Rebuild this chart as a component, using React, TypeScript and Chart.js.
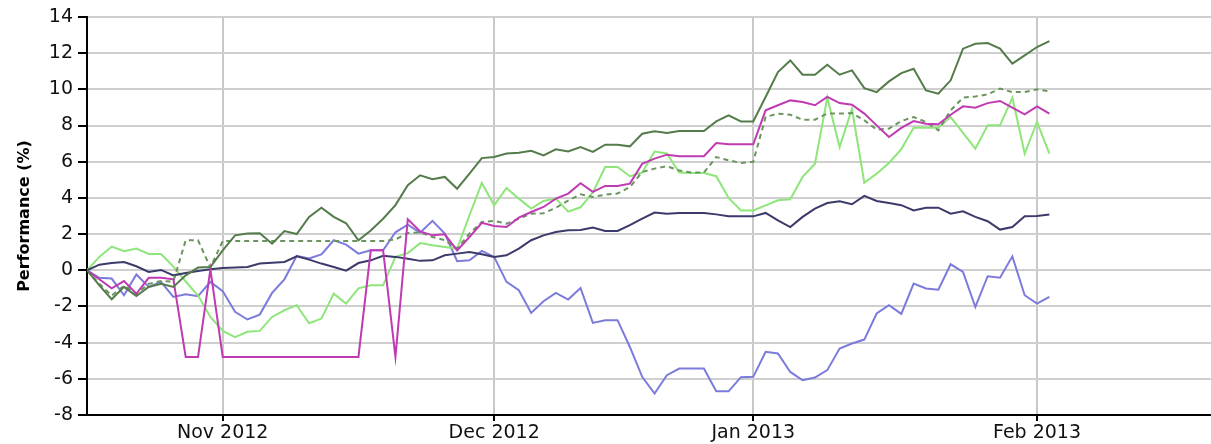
import React, { useEffect, useRef } from 'react';
import { Chart, registerables } from 'chart.js';

Chart.register(...registerables);

// x = trading-day index (0 = 17 Oct 2012, weekdays only)
const MONTH_TICKS = [11, 33, 54, 77];
const MONTH_LABELS = ['Nov 2012', 'Dec 2012', 'Jan 2013', 'Feb 2013'];
const X_MAX = 91.1;
const Y_MIN = -8;
const Y_MAX = 14;
const Y_STEP = 2;

const darkGreen = [
  0, -0.83, -1.6, -0.92, -1.42, -0.92, -0.74, -0.92, -0.28, 0.15,
  0.18, 1.1, 1.93, 2.03, 2.05, 1.47, 2.17, 2.0, 2.95, 3.46,
  2.95, 2.6, 1.66, 2.2, 2.85, 3.6, 4.7, 5.25, 5.03, 5.16,
  4.51, 5.34, 6.2, 6.26, 6.45, 6.5, 6.6, 6.35, 6.69, 6.57,
  6.81, 6.54, 6.94, 6.94, 6.85, 7.55, 7.68, 7.59, 7.7, 7.7,
  7.7, 8.23, 8.56, 8.23, 8.23, 9.58, 10.96, 11.6, 10.81, 10.81,
  11.36, 10.81, 11.05, 10.07, 9.85, 10.44, 10.9, 11.14, 9.94, 9.76,
  10.5, 12.25, 12.52, 12.56, 12.25, 11.42, 11.88, 12.34, 12.67,
];

const dashedGreen = [
  0, -0.75, -1.4, -0.85, -1.3, -0.75, -0.6, -0.62, 1.66, 1.66,
  0.15, 1.62, 1.62, 1.62, 1.62, 1.62, 1.62, 1.62, 1.62, 1.62,
  1.62, 1.62, 1.62, 1.62, 1.62, 1.7, 2.06, 2.1, 1.84, 1.66,
  1.2, 2.03, 2.67, 2.73, 2.58, 2.85, 3.13, 3.15, 3.45, 3.85,
  4.2, 4.05, 4.18, 4.24, 4.6, 5.43, 5.62, 5.75, 5.52, 5.4,
  5.4, 6.26, 6.08, 5.93, 6.0, 8.47, 8.66, 8.6, 8.32, 8.32,
  8.66, 8.66, 8.69, 8.29, 7.77, 7.83, 8.25, 8.47, 8.2, 7.73,
  8.84, 9.54, 9.61, 9.72, 10.04, 9.85, 9.85, 10.0, 9.89,
];

const magenta = [
  0, -0.5, -1.0, -0.6, -1.3, -0.42, -0.42, -0.5, -4.79, -4.79,
  0.05, -4.79, -4.79, -4.79, -4.79, -4.79, -4.79, -4.79, -4.79, -4.79,
  -4.79, -4.79, -4.79, 1.1, 1.1, -4.79, 2.82, 2.15, 1.93, 1.99,
  1.1, 1.84, 2.62, 2.45, 2.39, 2.91, 3.22, 3.5, 3.96, 4.24,
  4.81, 4.33, 4.66, 4.66, 4.79, 5.89, 6.17, 6.39, 6.3, 6.3,
  6.3, 7.03, 6.96, 6.96, 6.96, 8.84, 9.12, 9.39, 9.3, 9.12,
  9.58, 9.24, 9.15, 8.66, 8.01, 7.37, 7.87, 8.25, 8.1, 8.07,
  8.6, 9.06, 8.99, 9.24, 9.36, 8.99, 8.62, 9.06, 8.66,
];

const lightGreen = [
  0, 0.74, 1.31, 1.05, 1.2, 0.9, 0.9, 0.2, -0.62, -1.4,
  -2.58, -3.35, -3.7, -3.4, -3.35, -2.58, -2.21, -1.93, -2.93, -2.67,
  -1.29, -1.84, -1.0, -0.83, -0.83, 0.74, 0.95, 1.5, 1.38, 1.29,
  1.2, 3.04, 4.83, 3.59, 4.55, 3.96, 3.41, 3.83, 3.96, 3.24,
  3.48, 4.3, 5.71, 5.71, 5.2, 5.4, 6.56, 6.46, 5.4, 5.38,
  5.38, 5.2, 4.0, 3.31, 3.31, 3.59, 3.87, 3.92, 5.16, 5.89,
  9.54, 6.81, 8.93, 4.84, 5.34, 5.93, 6.7, 7.88, 7.88, 7.88,
  8.47, 7.6, 6.72, 8.01, 8.01, 9.54, 6.45, 8.2, 6.45,
];

const navy = [
  0, 0.31, 0.4, 0.46, 0.22, -0.09, 0.02, -0.28, -0.15, -0.04,
  0.06, 0.13, 0.15, 0.18, 0.37, 0.42, 0.46, 0.77, 0.59, 0.37,
  0.18, -0.02, 0.4, 0.55, 0.8, 0.74, 0.64, 0.52, 0.55, 0.83,
  0.92, 1.01, 0.88, 0.74, 0.83, 1.2, 1.66, 1.93, 2.12, 2.21,
  2.23, 2.36, 2.17, 2.17, 2.49, 2.85, 3.19, 3.13, 3.17, 3.17,
  3.17, 3.09, 2.98, 2.98, 2.98, 3.17, 2.76, 2.39, 2.95, 3.41,
  3.72, 3.81, 3.65, 4.11, 3.83, 3.72, 3.6, 3.31, 3.46, 3.46,
  3.13, 3.26, 2.95, 2.71, 2.25, 2.39, 2.98, 3.0, 3.08,
];

const lightBlue = [
  0, -0.42, -0.46, -1.38, -0.23, -0.92, -0.64, -1.47, -1.33, -1.43,
  -0.64, -1.15, -2.3, -2.72, -2.45, -1.25, -0.5, 0.8, 0.65, 0.88,
  1.66, 1.42, 0.92, 1.1, 1.1, 2.1, 2.52, 2.07, 2.73, 2.03,
  0.5, 0.55, 1.07, 0.74, -0.64, -1.1, -2.36, -1.71, -1.25, -1.62,
  -0.98, -2.91, -2.76, -2.76, -4.24, -5.89, -6.81, -5.8, -5.43, -5.43,
  -5.43, -6.69, -6.69, -5.91, -5.89, -4.51, -4.6, -5.62, -6.08, -5.93,
  -5.52, -4.33, -4.05, -3.83, -2.39, -1.93, -2.41, -0.74, -1.01, -1.07,
  0.33, -0.09, -2.03, -0.33, -0.41, 0.77, -1.38, -1.84, -1.47,
];

const toPoints = (arr: number[]) => arr.map((y, i) => ({ x: i, y }));

export default function App() {
  const ref = useRef<HTMLCanvasElement | null>(null);

  useEffect(() => {
    if (!ref.current) return;
    const mk = (data: number[], color: string, width: number, dash?: number[]) => ({
      data: toPoints(data),
      borderColor: color,
      backgroundColor: color,
      borderWidth: width,
      borderDash: dash || [],
      pointRadius: 0,
      tension: 0,
      fill: false,
    });
    const chart = new Chart(ref.current, {
      type: 'line',
      data: {
        datasets: [
          mk(darkGreen, '#547c4a', 2),
          mk(magenta, '#c03ab2', 2),
          mk(dashedGreen, '#6c945f', 2, [5, 4]),
          mk(navy, '#3c3a6a', 2),
          mk(lightGreen, '#8ee67a', 2),
          mk(lightBlue, '#7b7bdc', 2),
        ],
      },
      options: {
        animation: false,
        responsive: false,
        maintainAspectRatio: false,
        devicePixelRatio: 1,
        layout: { padding: { top: 17, right: 0, bottom: 0, left: 0 } },
        plugins: { legend: { display: false }, tooltip: { enabled: false } },
        scales: {
          x: {
            type: 'linear',
            min: 0,
            max: X_MAX,
            afterBuildTicks: (scale: any) => {
              scale.ticks = MONTH_TICKS.map((v) => ({ value: v }));
            },
            afterFit: (scale: any) => {
              scale.height = 29;
            },
            ticks: {
              autoSkip: false,
              maxRotation: 0,
              padding: 1,
              color: '#111',
              font: { family: 'DejaVu Sans', size: 19 },
              callback: (_v: any, i: number) => MONTH_LABELS[i],
            },
            grid: {
              color: '#c8c8c8',
              lineWidth: 2,
              tickColor: '#000',
              tickLength: 6,
            },
            border: { color: '#000', width: 2 },
          },
          y: {
            min: Y_MIN,
            max: Y_MAX,
            afterFit: (scale: any) => {
              scale.width = 87;
            },
            ticks: {
              stepSize: Y_STEP,
              padding: 5,
              color: '#111',
              font: { family: 'DejaVu Sans', size: 19 },
            },
            grid: {
              color: (c: any) => (c.tick && c.tick.value === Y_MIN ? 'rgba(0,0,0,0)' : '#cfcfcf'),
              lineWidth: 2,
              tickColor: '#000',
              tickLength: 9,
            },
            border: { color: '#000', width: 2 },
            title: {
              display: true,
              text: 'Performance (%)',
              color: '#000',
              font: { family: 'DejaVu Sans', size: 16, weight: 'bold' },
              padding: { top: 15, bottom: 0 },
            },
          },
        },
      },
    } as any);
    return () => chart.destroy();
  }, []);

  return (
    <div style={{ position: 'absolute', left: 0, top: 0, width: 1211, height: 444, background: '#fff' }}>
      <canvas ref={ref} width={1211} height={444} style={{ display: 'block' }} />
    </div>
  );
}
